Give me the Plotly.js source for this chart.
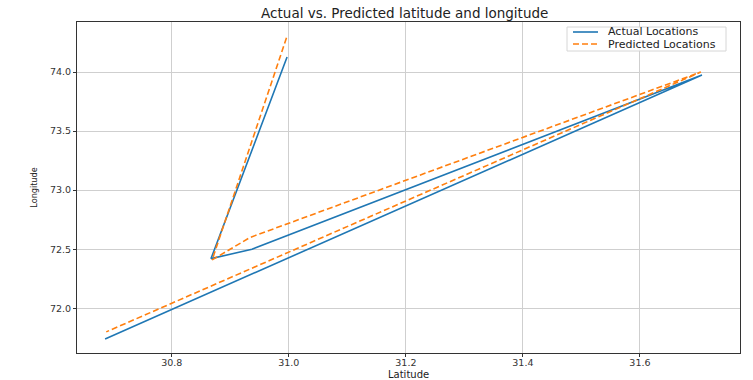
<!DOCTYPE html>
<html><head><meta charset="utf-8">
<script src="https://cdn.plot.ly/plotly-3.0.1.min.js"></script>
<style>html,body{margin:0;padding:0;background:#fff}#chart{width:753px;height:380px}</style>
</head><body><div id="chart"></div>
<script>
const actualLat = [30.997, 30.867, 30.937, 31.706, 30.686];
const actualLon = [74.127, 72.42, 72.50, 73.975, 71.74];
const predLat = [30.996, 30.869, 30.934, 31.704, 30.688];
const predLon = [74.29, 72.41, 72.60, 74.00, 71.80];
const xTicks = [30.8, 31.0, 31.2, 31.4, 31.6];
const yTicks = [72.0, 72.5, 73.0, 73.5, 74.0];
const seriesNames = ['Actual Locations', 'Predicted Locations'];

const font = "DejaVu Sans, sans-serif";
const colors = ['#1f77b4', '#ff7f0e'];
const dashes = ['solid', '6px,3px'];
const traces = [
  {x: actualLat, y: actualLon, mode: 'lines', name: seriesNames[0],
   line: {color: colors[0], width: 1.6}},
  {x: predLat, y: predLon, mode: 'lines', name: seriesNames[1],
   line: {color: colors[1], width: 1.6, dash: dashes[1]}}
];
const axisCommon = {
  showline: true, mirror: true, linecolor: '#333', linewidth: 1,
  ticks: 'outside', ticklen: 3, tickcolor: '#333', tickwidth: 1,
  showgrid: true, gridcolor: '#cfcfcf', gridwidth: 1, zeroline: false,
  tickfont: {family: font, size: 9.5, color: '#333'}
};
// plot area in pixels: x 77..740, y 22..353
const L = 77, R = 740, T = 22, B = 353;
const px = v => (v - L) / (R - L);
const py = v => (B - v) / (B - T);

const shapes = [
  {type: 'rect', xref: 'paper', yref: 'paper', x0: px(567), x1: px(726), y0: py(51), y1: py(27),
   line: {color: '#d6d6d6', width: 1}, fillcolor: 'rgba(255,255,255,0.85)', layer: 'above'}
];
const annotations = [
  {text: 'Latitude', xref: 'paper', yref: 'paper', x: 0.5, y: py(374), xanchor: 'center', yanchor: 'middle',
   showarrow: false, font: {family: font, size: 10, color: '#222'}}
];
seriesNames.forEach((n, i) => {
  const yy = 32 + i * 12;
  shapes.push({type: 'line', xref: 'paper', yref: 'paper', x0: px(573), x1: px(598), y0: py(yy), y1: py(yy),
    line: {color: colors[i], width: 1.6, dash: dashes[i]}, layer: 'above'});
  annotations.push({text: n, xref: 'paper', yref: 'paper', x: px(606), y: py(yy), xanchor: 'left', yanchor: 'middle',
    showarrow: false, font: {family: font, size: 11, color: '#222'}});
});

const layout = {
  width: 753, height: 380,
  margin: {l: L, r: 753 - R, t: T, b: 380 - B},
  paper_bgcolor: '#fff', plot_bgcolor: '#fff',
  title: {text: 'Actual vs. Predicted latitude and longitude', font: {family: font, size: 13.5, color: '#222'},
    x: 0.5375, xanchor: 'center', y: 0.965, yanchor: 'middle', xref: 'container', yref: 'container'},
  xaxis: Object.assign({}, axisCommon, {
    range: [30.638, 31.771], tickvals: xTicks, ticktext: xTicks.map(v => v.toFixed(1)),
    ticklabelstandoff: -2
  }),
  yaxis: Object.assign({}, axisCommon, {
    range: [71.621, 74.424], tickvals: yTicks, ticktext: yTicks.map(v => v.toFixed(1)),
    title: {text: 'Longitude', font: {family: "DejaVu Sans Condensed, DejaVu Sans, sans-serif", size: 9, color: '#222'}, standoff: 10}
  }),
  showlegend: false,
  shapes: shapes,
  annotations: annotations
};
Plotly.newPlot('chart', traces, layout, {staticPlot: true, displayModeBar: false});
</script></body></html>
